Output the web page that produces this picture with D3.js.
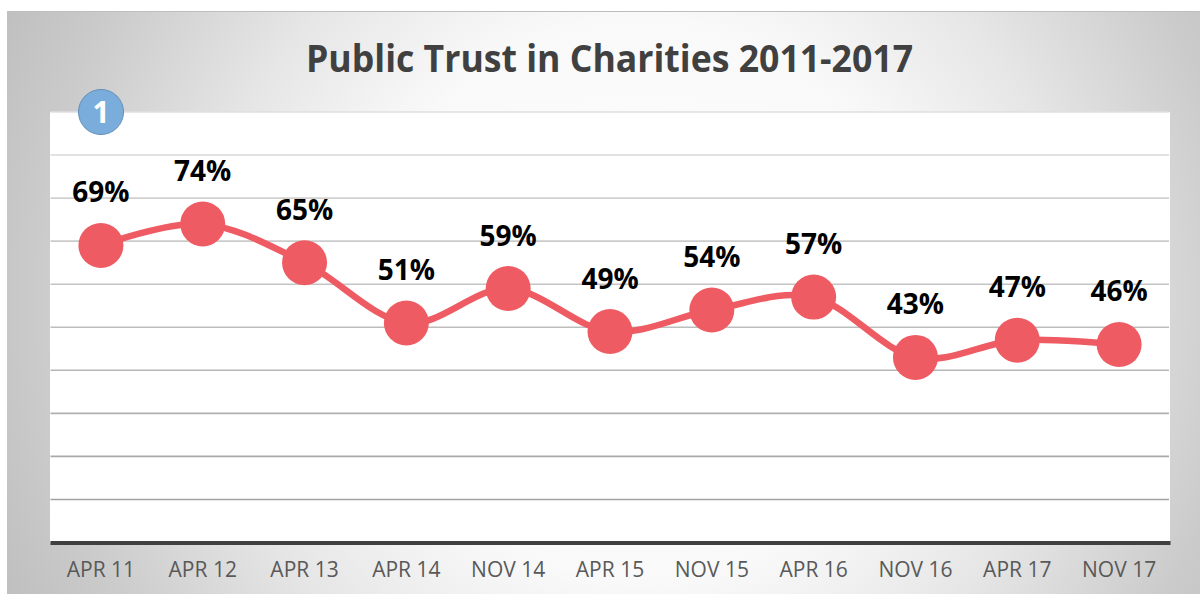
<!DOCTYPE html>
<html>
<head>
<meta charset="utf-8">
<script src="https://cdn.jsdelivr.net/npm/d3@7/dist/d3.min.js"></script>
<style>
  html, body { margin: 0; padding: 0; background: #fff; overflow: hidden; }
  svg { display: block; }
  text { font-family: "Open Sans", "Noto Sans", sans-serif; }
</style>
</head>
<body>
<svg id="chart" width="1200" height="594"></svg>
<script>
const categories = ["APR 11","APR 12","APR 13","APR 14","NOV 14","APR 15","NOV 15","APR 16","NOV 16","APR 17","NOV 17"];
const trustValues = [69,74,65,51,59,49,54,57,43,47,46];
const gridTicks = [10,20,30,40,50,60,70,80,90,100];
const titleText = "Public Trust in Charities 2011-2017";

const svg = d3.select("#chart");
const defs = svg.append("defs");

// Soft radial backdrop: pale centre, grey corners
const bg = defs.append("radialGradient").attr("id","panelFill")
  .attr("gradientUnits","userSpaceOnUse")
  .attr("cx",640).attr("cy",300).attr("r",700);
[[0,"#ffffff"],[0.4,"#f9f9f9"],[0.62,"#e6e6e6"],[0.86,"#cbcbcb"],[1,"#bfbfbf"]].forEach(([o,c]) =>
  bg.append("stop").attr("offset",o).attr("stop-color",c));

svg.append("rect").attr("x",7).attr("y",11.5).attr("width",1193).attr("height",582.5)
  .attr("fill","url(#panelFill)");
svg.append("line").attr("x1",7).attr("x2",1200).attr("y1",11.5).attr("y2",11.5)
  .attr("stroke","#bdbdbd").attr("stroke-width",1);

const x = d3.scaleBand().domain(categories).range([50,1170]);
const y = d3.scaleLinear().domain([0,100]).range([542.5,112]);
const cx = d => x(d) + x.bandwidth()/2;

svg.append("rect").attr("x",50).attr("y",112).attr("width",1120).attr("height",430.5).attr("fill","#fff");

// Gridlines darken toward the baseline
const gridColor = d3.scaleLinear().domain([100,10]).range(["#dfdfdf","#a2a2a2"]);
svg.append("g").selectAll("line").data(gridTicks).join("line")
  .attr("x1",50.5).attr("x2",1169)
  .attr("y1",d=>y(d)).attr("y2",d=>y(d))
  .attr("stroke",d=>gridColor(d)).attr("stroke-width",1.6);

// Category axis with a heavy baseline and no tick marks
const xAxis = svg.append("g").attr("transform",`translate(0,${y(0)})`)
  .call(d3.axisBottom(x).tickSize(0).tickPadding(20));
xAxis.select(".domain").attr("stroke","#404040").attr("stroke-width",4);
xAxis.selectAll("text").attr("font-size",21).attr("fill","#595959")
  .style("font-family","'Open Sans', 'Noto Sans', sans-serif");

const line = d3.line().x(d=>cx(d.c)).y(d=>y(d.v)).curve(d3.curveCardinal.tension(0));
const points = categories.map((c,i)=>({c, v:trustValues[i]}));

svg.append("path").datum(points).attr("d",line)
  .attr("fill","none").attr("stroke","#ef5b63").attr("stroke-width",6.5).attr("stroke-linecap","round");

svg.append("g").selectAll("circle").data(points).join("circle")
  .attr("cx",d=>cx(d.c)).attr("cy",d=>y(d.v)).attr("r",22.5).attr("fill","#ef5b63");

svg.append("g").selectAll("text").data(points).join("text")
  .attr("x",d=>cx(d.c)).attr("y",d=>y(d.v)-43)
  .attr("text-anchor","middle").attr("font-size",28).attr("font-weight",700).attr("fill","#000")
  .text(d=>d.v+"%");

svg.append("text").attr("x",609.5).attr("y",72).attr("text-anchor","middle")
  .attr("font-size",38).attr("font-weight",700).attr("fill","#404040")
  .attr("textLength",607).attr("lengthAdjust","spacingAndGlyphs").text(titleText);

// Numbered badge on the plot's upper edge
svg.append("circle").attr("cx",101).attr("cy",112).attr("r",22.5)
  .attr("fill","#7aaddc").attr("stroke","#5f8fb8").attr("stroke-width",1);
svg.append("text").attr("x",101).attr("y",123).attr("text-anchor","middle")
  .attr("font-size",30).attr("font-weight",700).attr("fill","#fff").text("1");
</script>
</body>
</html>
